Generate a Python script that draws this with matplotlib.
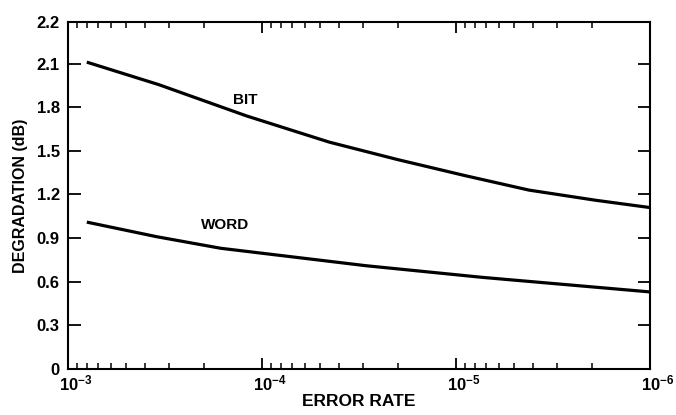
import matplotlib
matplotlib.use("Agg")
import matplotlib.pyplot as plt
import matplotlib.transforms as mtransforms
from matplotlib.ticker import LogLocator, NullFormatter, FixedLocator, FixedFormatter

# Data
bit_rate = [8e-4, 3.4e-4, 1.2e-4, 4.5e-5, 2e-5, 9e-6, 4.2e-6, 1.9e-6, 1e-6]
bit_deg = [2.11, 1.955, 1.74, 1.56, 1.44, 1.33, 1.23, 1.16, 1.11]
word_rate = [8e-4, 3.5e-4, 1.63e-4, 2.9e-5, 7.3e-6, 1e-6]
word_deg = [1.01, 0.91, 0.83, 0.71, 0.63, 0.53]

x_ticks = [1e-3, 1e-4, 1e-5, 1e-6]
x_tick_labels = ["$\\mathbf{10^{-3}}$", "$\\mathbf{10^{-4}}$", "$\\mathbf{10^{-5}}$", "$\\mathbf{10^{-6}}$"]
y_ticks = [0, 0.3, 0.6, 0.9, 1.2, 1.5, 1.8, 2.1, 2.386]
y_tick_labels = ["0", "0.3", "0.6", "0.9", "1.2", "1.5", "1.8", "2.1", "2.2"]

plt.rcParams['font.family'] = ['Liberation Sans', 'DejaVu Sans']
plt.rcParams['mathtext.fontset'] = 'custom'
plt.rcParams['mathtext.rm'] = 'Liberation Sans'
plt.rcParams['mathtext.bf'] = 'Liberation Sans:bold'

fig = plt.figure(figsize=(6.76, 4.15), dpi=100)
bottom_px, top_px = 369, 22
ax = fig.add_axes([68/676, 1-bottom_px/415, (650-68)/676, (bottom_px-top_px)/415])

ax.plot(bit_rate, bit_deg, color='black', lw=2.3, solid_capstyle='butt', solid_joinstyle='round')
ax.plot(word_rate, word_deg, color='black', lw=2.3, solid_capstyle='butt', solid_joinstyle='round')

ax.set_xscale('log')
ax.set_xlim(1e-3, 1e-6)
ax.set_ylim(0, 2.386)

ax.xaxis.set_major_locator(FixedLocator(x_ticks))
ax.xaxis.set_major_formatter(FixedFormatter(x_tick_labels))
ax.xaxis.set_minor_locator(LogLocator(base=10, subs=range(2, 10)))
ax.xaxis.set_minor_formatter(NullFormatter())
ax.yaxis.set_major_locator(FixedLocator(y_ticks))
ax.yaxis.set_major_formatter(FixedFormatter(y_tick_labels))

ax.tick_params(axis='both', which='major', direction='in', top=True, right=True,
               length=8, width=1.3, labelsize=12)
ax.tick_params(axis='x', which='major', pad=3)
ax.tick_params(axis='y', which='major', pad=6, length=9)
ax.tick_params(axis='x', which='minor', direction='in', top=True, length=4, width=1.1)
for lbl in ax.get_yticklabels() + ax.get_xticklabels():
    lbl.set_fontweight('bold')

# shift x tick labels slightly right, as in the reference
offset = mtransforms.ScaledTranslation(8/100, 0, fig.dpi_scale_trans)
for lbl in ax.get_xticklabels():
    lbl.set_transform(lbl.get_transform() + offset)

for s in ax.spines.values():
    s.set_linewidth(1.5)

ax.text(1.22e-4, 1.85, "BIT", fontsize=11, fontweight='bold', ha='center', va='center')
ax.text(1.55e-4, 0.99, "WORD", fontsize=11, fontweight='bold', ha='center', va='center')

ax.set_xlabel("ERROR RATE", fontsize=12.5, fontweight='bold', labelpad=1)
ax.set_ylabel("DEGRADATION (dB)", fontsize=11.5, fontweight='bold', labelpad=6)

fig.savefig("out.png", dpi=100)
